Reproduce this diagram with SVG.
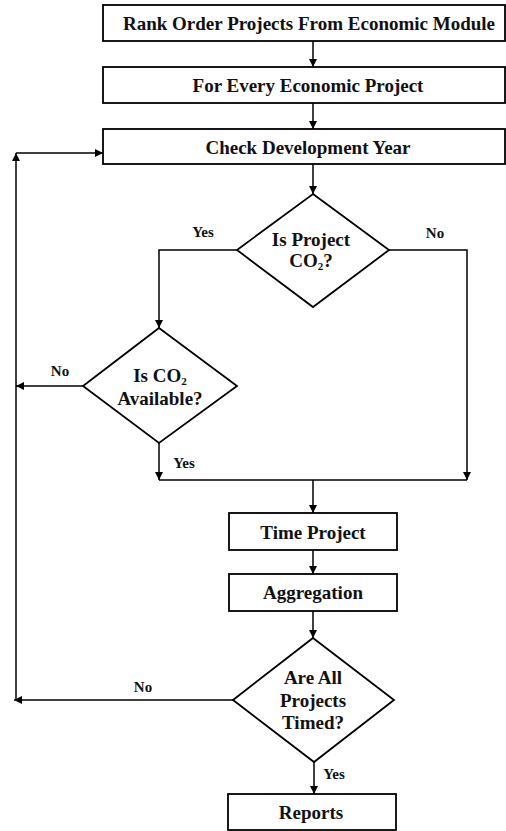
<svg xmlns="http://www.w3.org/2000/svg" width="506" height="831" viewBox="0 0 506 831">
<style>
.box{fill:#fff;stroke:#000;stroke-width:1.8}
.t{font-family:"Liberation Serif","Times New Roman",serif;font-weight:bold;font-size:19px;text-anchor:middle;fill:#111}
.l{font-family:"Liberation Serif","Times New Roman",serif;font-weight:bold;font-size:15px;text-anchor:middle;fill:#111}
.sub{font-size:11px}
.c{fill:none;stroke:#000;stroke-width:1.5}
</style>
<defs>
<marker id="a" viewBox="0 0 10 10" refX="10" refY="5" markerWidth="8" markerHeight="8" markerUnits="userSpaceOnUse" orient="auto">
<path d="M0,0 L10,5 L0,10 z" fill="#000"/>
</marker>
</defs>
<g id="connectors">
<line class="c" x1="313" y1="41" x2="313" y2="67" marker-end="url(#a)"/>
<line class="c" x1="313" y1="103" x2="313" y2="129" marker-end="url(#a)"/>
<line class="c" x1="313" y1="164" x2="313" y2="194" marker-end="url(#a)"/>
<polyline class="c" points="237,250 159,250 159,328" marker-end="url(#a)"/>
<polyline class="c" points="389,250 467,250 467,480" marker-end="url(#a)"/>
<line class="c" x1="83" y1="386" x2="16" y2="386" marker-end="url(#a)"/>
<line class="c" x1="159" y1="443" x2="159" y2="480" marker-end="url(#a)"/>
<line class="c" x1="159" y1="480" x2="467" y2="480"/>
<line class="c" x1="313" y1="480" x2="313" y2="513" marker-end="url(#a)"/>
<line class="c" x1="313" y1="550" x2="313" y2="574" marker-end="url(#a)"/>
<line class="c" x1="313" y1="611" x2="313" y2="638" marker-end="url(#a)"/>
<line class="c" x1="233" y1="700" x2="14" y2="700" marker-end="url(#a)"/>
<line class="c" x1="16" y1="700" x2="16" y2="153" marker-end="url(#a)"/>
<line class="c" x1="16" y1="153" x2="103" y2="153" marker-end="url(#a)"/>
<line class="c" x1="314" y1="762" x2="314" y2="794" marker-end="url(#a)"/>
<text class="l" x="203" y="237">Yes</text>
<text class="l" x="435" y="238">No</text>
<text class="l" x="60" y="376">No</text>
<text class="l" x="184" y="468">Yes</text>
<text class="l" x="143" y="692">No</text>
<text class="l" x="334" y="779">Yes</text>
</g>
<g id="rank">
<rect class="box" x="103" y="5" width="402" height="36"/>
<text class="t" x="309" y="30">Rank Order Projects From Economic Module</text>
</g>
<g id="every">
<rect class="box" x="103" y="67" width="402" height="36"/>
<text class="t" x="308" y="92">For Every Economic Project</text>
</g>
<g id="check">
<rect class="box" x="103" y="129" width="402" height="35"/>
<text class="t" x="308" y="154">Check Development Year</text>
</g>
<g id="isproject">
<polygon class="box" points="313,194 389,250 313,307 237,250"/>
<text class="t" x="311" y="246">Is Project</text>
<text class="t" x="311" y="267">CO<tspan class="sub" dy="3">2</tspan><tspan dy="-3">?</tspan></text>
</g>
<g id="available">
<polygon class="box" points="159,328 237,386 159,443 83,386"/>
<text class="t" x="160" y="382">Is CO<tspan class="sub" dy="3">2</tspan></text>
<text class="t" x="160" y="405">Available?</text>
</g>
<g id="time">
<rect class="box" x="229" y="513" width="168" height="37"/>
<text class="t" x="313" y="539">Time Project</text>
</g>
<g id="aggregation">
<rect class="box" x="229" y="574" width="168" height="37"/>
<text class="t" x="313" y="599">Aggregation</text>
</g>
<g id="alltimed">
<polygon class="box" points="313,638 394,700 314,762 233,700"/>
<text class="t" x="313" y="684">Are All</text>
<text class="t" x="313" y="707">Projects</text>
<text class="t" x="313" y="729">Timed?</text>
</g>
<g id="reports">
<rect class="box" x="228" y="794" width="168" height="36"/>
<text class="t" x="311" y="819">Reports</text>
</g>
</svg>
